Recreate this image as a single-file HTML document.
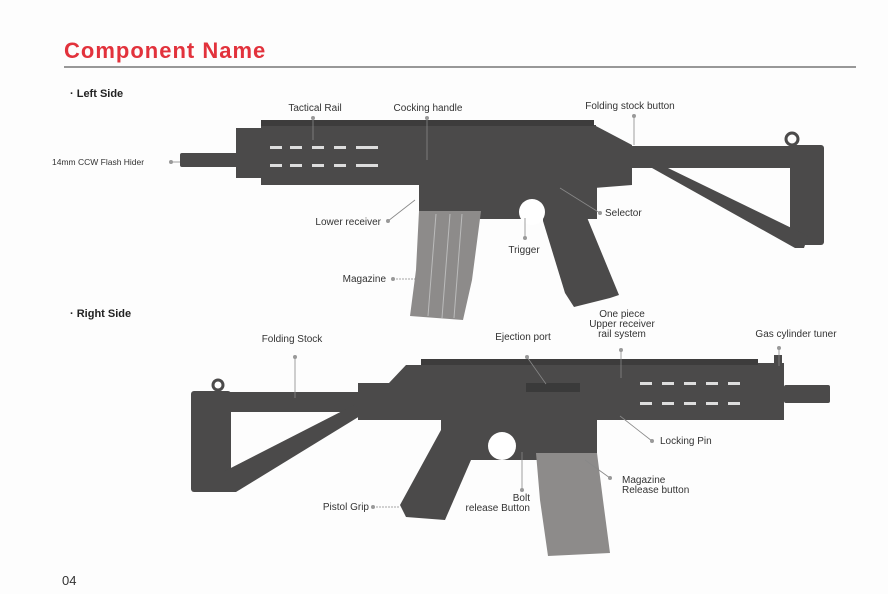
<!DOCTYPE html>
<html><head><meta charset="utf-8"><style>
html,body{margin:0;padding:0;background:#fff;}
svg{display:block;font-family:"Liberation Sans",Arial,sans-serif;}
</style></head><body>
<svg width="888" height="594" viewBox="0 0 888 594" xmlns="http://www.w3.org/2000/svg">
<rect width="888" height="594" fill="#fdfdfd"/>
<text x="64" y="58" font-size="22" font-weight="bold" letter-spacing="1" fill="#e2323c">Component Name</text>
<line x1="64" y1="67" x2="856" y2="67" stroke="#333" stroke-width="1"/>
<text x="70" y="97" font-size="11" font-weight="bold" fill="#222">· Left Side</text>
<text x="70" y="317" font-size="11" font-weight="bold" fill="#222">· Right Side</text>
<text x="62" y="585" font-size="13" fill="#333">04</text>

<!-- TOP GUN -->
<g fill="#4b4a4a">
<rect x="180" y="153" width="58" height="14" rx="2"/>
<rect x="236" y="128" width="26" height="50"/>
<rect x="261" y="125" width="335" height="60"/>
<polygon points="594,125 632,145 632,185 594,188"/>
<rect x="632" y="146" width="178" height="22"/>
<rect x="790" y="145" width="34" height="100" rx="3"/>
<polygon points="652,168 668,168 808,236 804,248 795,248"/>
<rect x="419" y="183" width="178" height="36"/>
<polygon points="543,198 579,198 619,295 610,298 574,307 565,293 543,221"/>
</g>
<rect x="261" y="120" width="333" height="6" fill="#3d3c3c"/>
<circle cx="792" cy="139" r="6" fill="none" stroke="#4b4a4a" stroke-width="3"/>
<g fill="#ddd">
<rect x="270" y="146" width="12" height="3"/><rect x="290" y="146" width="12" height="3"/><rect x="312" y="146" width="12" height="3"/><rect x="334" y="146" width="12" height="3"/><rect x="356" y="146" width="22" height="3"/>
<rect x="270" y="164" width="12" height="3"/><rect x="290" y="164" width="12" height="3"/><rect x="312" y="164" width="12" height="3"/><rect x="334" y="164" width="12" height="3"/><rect x="356" y="164" width="22" height="3"/>
</g>
<circle cx="532" cy="212" r="13" fill="#fff"/>
<polygon points="419,211 481,211 472,280 463,320 410,316 416,270" fill="#8d8b8a"/>
<g stroke="#bbb" stroke-width="1"><line x1="436" y1="214" x2="428" y2="316"/><line x1="450" y1="214" x2="442" y2="318"/><line x1="462" y1="214" x2="454" y2="318"/></g>

<!-- BOTTOM GUN -->
<g fill="#4b4a4a">
<rect x="191" y="391" width="40" height="101" rx="3"/>
<rect x="223" y="392" width="137" height="20"/>
<polygon points="223,472 356,404 360,416 236,492 223,492"/>
<polygon points="358,383 389,383 406,365 624,365 624,420 358,420"/>
<rect x="622" y="365" width="137" height="55"/>
<rect x="758" y="363" width="26" height="57"/>
<rect x="784" y="385" width="46" height="18" rx="2"/>
<rect x="774" y="355" width="8" height="10"/>
<rect x="441" y="413" width="156" height="47"/>
<polygon points="441,430 484,430 445,520 406,517 400,505"/>
</g>
<rect x="421" y="359" width="337" height="6" fill="#3d3c3c"/>
<circle cx="218" cy="385" r="5" fill="none" stroke="#4b4a4a" stroke-width="3"/>
<rect x="526" y="383" width="54" height="9" fill="#3a3a3a"/>
<g fill="#ddd">
<rect x="640" y="382" width="12" height="3"/><rect x="662" y="382" width="12" height="3"/><rect x="684" y="382" width="12" height="3"/><rect x="706" y="382" width="12" height="3"/><rect x="728" y="382" width="12" height="3"/>
<rect x="640" y="402" width="12" height="3"/><rect x="662" y="402" width="12" height="3"/><rect x="684" y="402" width="12" height="3"/><rect x="706" y="402" width="12" height="3"/><rect x="728" y="402" width="12" height="3"/>
</g>
<circle cx="502" cy="446" r="14" fill="#fff"/>
<polygon points="536,453 597,453 603,500 610,553 548,556 540,500" fill="#8d8b8a"/>

<!-- connectors -->
<g stroke="#888" stroke-width="0.8" fill="none">
<line x1="313" y1="118" x2="313" y2="140"/>
<line x1="427" y1="118" x2="427" y2="160"/>
<line x1="634" y1="116" x2="634" y2="145"/>
<line x1="171" y1="162" x2="180" y2="162"/>
<line x1="388" y1="221" x2="415" y2="200"/>
<line x1="600" y1="213" x2="560" y2="188"/>
<line x1="525" y1="238" x2="525" y2="218"/>
<line x1="393" y1="279" x2="416" y2="279" stroke-dasharray="2,1"/>
<line x1="295" y1="357" x2="295" y2="398"/>
<line x1="527" y1="357" x2="546" y2="384"/>
<line x1="621" y1="350" x2="621" y2="378"/>
<line x1="779" y1="348" x2="779" y2="366"/>
<line x1="652" y1="441" x2="620" y2="416"/>
<line x1="610" y1="478" x2="585" y2="460"/>
<line x1="522" y1="490" x2="522" y2="452"/>
<line x1="373" y1="507" x2="400" y2="507" stroke-dasharray="2,1"/>
</g>
<g fill="#999">
<circle cx="313" cy="118" r="2"/><circle cx="427" cy="118" r="2"/><circle cx="634" cy="116" r="2"/><circle cx="171" cy="162" r="2"/>
<circle cx="388" cy="221" r="2"/><circle cx="600" cy="213" r="2"/><circle cx="525" cy="238" r="2"/><circle cx="393" cy="279" r="2"/>
<circle cx="295" cy="357" r="2"/><circle cx="527" cy="357" r="2"/><circle cx="621" cy="350" r="2"/><circle cx="779" cy="348" r="2"/>
<circle cx="652" cy="441" r="2"/><circle cx="610" cy="478" r="2"/><circle cx="522" cy="490" r="2"/><circle cx="373" cy="507" r="2"/>
</g>

<!-- labels -->
<g font-size="10" fill="#333">
<text x="315" y="111" text-anchor="middle">Tactical Rail</text>
<text x="428" y="111" text-anchor="middle">Cocking handle</text>
<text x="630" y="109" text-anchor="middle">Folding stock button</text>
<text x="52" y="165" font-size="8.5">14mm CCW Flash Hider</text>
<text x="381" y="225" text-anchor="end">Lower receiver</text>
<text x="605" y="216">Selector</text>
<text x="524" y="253" text-anchor="middle">Trigger</text>
<text x="386" y="282" text-anchor="end">Magazine</text>
<text x="292" y="342" text-anchor="middle">Folding Stock</text>
<text x="523" y="340" text-anchor="middle">Ejection port</text>
<text x="622" y="317" text-anchor="middle">One piece</text>
<text x="622" y="327" text-anchor="middle">Upper receiver</text>
<text x="622" y="337" text-anchor="middle">rail system</text>
<text x="796" y="337" text-anchor="middle">Gas cylinder tuner</text>
<text x="660" y="444">Locking Pin</text>
<text x="622" y="483">Magazine</text>
<text x="622" y="493">Release button</text>
<text x="530" y="501" text-anchor="end">Bolt</text>
<text x="530" y="511" text-anchor="end">release Button</text>
<text x="369" y="510" text-anchor="end">Pistol Grip</text>
</g>
</svg>
</body></html>
